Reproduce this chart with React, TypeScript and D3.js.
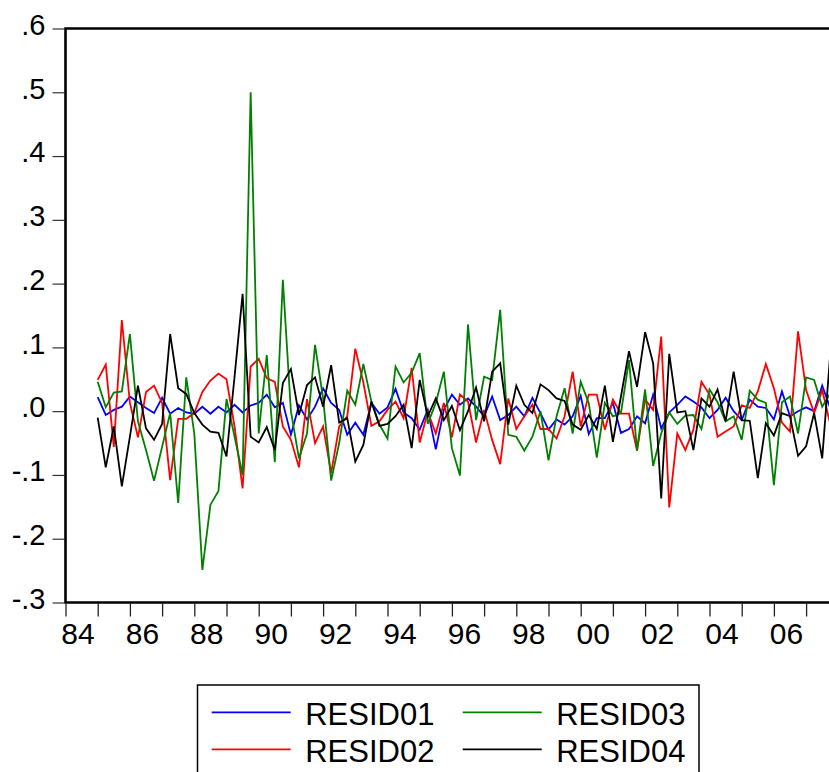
import { useEffect, useRef } from 'react';
import * as d3 from 'd3';

const width = 829;
const height = 772;
// plot frame (right edge falls outside the picture)
const [left, top, bottom, right] = [65.5, 28.5, 602.5, 838.3];

// quarterly observations, first one is 1985Q1
const startYear = 1985;
const yTicks = [-0.3, -0.2, -0.1, 0, 0.1, 0.2, 0.3, 0.4, 0.5, 0.6];
const yearTicks = d3.range(1984, 2008);
const yearLabels = ['84', '86', '88', '90', '92', '94', '96', '98', '00', '02', '04', '06'];

const resid01 = [
    0.022, -0.006, 0.002, 0.007, 0.023, 0.014, 0.005, -0.003, 0.021, -0.004, 0.005, -0.002, -0.004, 0.007, -0.004,
    0.007, -0.002, 0.01, -0.002, 0.009, 0.013, 0.026, 0.006, 0.013, -0.037, 0.009, -0.013, 0.007, 0.036, 0.013, 0.002,
    -0.037, -0.018, -0.037, 0.013, -0.004, 0.006, 0.035, -0.002, -0.011, -0.029, 0.002, -0.06, 0.002, 0.026, 0.01,
    0.02, 0.007, -0.008, 0.023, -0.014, -0.006, 0.007, -0.008, 0.021, -0.003, -0.029, -0.013, -0.021, -0.008, 0.024,
    -0.036, -0.011, -0.011, 0.013, -0.034, -0.028, -0.008, -0.019, 0.026, -0.027, -0.002, 0.01, 0.023, 0.015, 0.006,
    -0.011, 0.002, 0.021, 0.0, -0.014, 0.018, 0.007, 0.005, -0.013, 0.031, -0.008, 0.0, 0.006, 0.0, 0.04, 0.005
];
const resid02 = [
    0.049, 0.073, -0.056, 0.143, 0.013, -0.041, 0.03, 0.04, 0.013, -0.108, -0.012, -0.012, -0.003, 0.03, 0.048, 0.059,
    0.05, -0.024, -0.121, 0.07, 0.082, 0.052, 0.046, -0.024, -0.045, -0.088, 0.019, -0.05, -0.024, -0.097, -0.024,
    -0.008, 0.098, 0.045, -0.023, -0.016, 0.002, 0.015, -0.011, 0.068, -0.049, -0.001, -0.035, 0.013, -0.041, 0.026,
    0.015, -0.049, 0.002, -0.045, -0.083, 0.02, -0.028, -0.008, 0.01, -0.028, -0.028, -0.043, -0.008, 0.062, -0.024,
    0.026, 0.026, -0.029, 0.018, -0.004, -0.004, -0.062, 0.018, 0.002, 0.117, -0.151, -0.035, -0.061, -0.029, 0.046,
    0.026, -0.04, -0.032, -0.024, 0.009, 0.005, 0.031, 0.074, 0.036, -0.018, -0.032, 0.125, 0.033, -0.003, 0.033, -0.02
];
const resid03 = [
    0.046, 0.006, 0.029, 0.031, 0.121, -0.016, -0.061, -0.109, -0.056, -0.003, -0.144, 0.053, -0.035, -0.249, -0.147,
    -0.125, 0.019, -0.04, -0.1, 0.5, -0.035, 0.088, -0.08, 0.206, 0.0, -0.074, -0.035, 0.104, 0.02, -0.109, -0.05,
    0.032, 0.01, 0.074, 0.015, -0.021, -0.043, 0.07, 0.045, 0.06, 0.091, -0.02, 0.013, 0.062, -0.058, -0.101, 0.136,
    -0.014, 0.054, 0.049, 0.159, -0.037, -0.04, -0.062, -0.04, 0.0, -0.077, -0.008, 0.036, -0.035, 0.046, 0.013,
    -0.073, 0.013, -0.008, -0.003, 0.08, -0.061, 0.034, -0.086, -0.035, -0.002, -0.02, -0.007, -0.006, -0.028, 0.034,
    0.014, -0.016, -0.008, -0.045, 0.032, 0.018, 0.013, -0.116, 0.014, 0.023, -0.035, 0.053, 0.049, 0.007, 0.028
];
const resid04 = [
    -0.01, -0.088, -0.024, -0.118, -0.04, 0.04, -0.027, -0.045, -0.02, 0.121, 0.036, 0.027, -0.003, -0.021, -0.032,
    -0.034, -0.071, 0.054, 0.184, -0.04, -0.049, -0.025, -0.061, 0.044, 0.066, -0.006, 0.041, 0.053, 0.007, 0.072,
    -0.018, -0.011, -0.079, -0.053, 0.015, -0.023, -0.02, -0.008, 0.01, -0.058, 0.049, -0.008, 0.02, -0.014, 0.008,
    -0.03, 0.0, 0.037, -0.016, 0.062, 0.075, -0.021, 0.04, 0.01, -0.003, 0.042, 0.033, 0.02, 0.016, -0.021, -0.029,
    -0.006, -0.028, 0.04, -0.048, 0.023, 0.094, 0.038, 0.124, 0.075, -0.137, 0.09, -0.002, 0.0, -0.061, 0.02, 0.007,
    0.034, -0.016, 0.062, -0.014, -0.015, -0.105, -0.019, -0.038, -0.003, -0.008, -0.07, -0.055, -0.003, -0.074, 0.09
];

const seriesNames = ['RESID01', 'RESID02', 'RESID03', 'RESID04'];
const seriesValues = [resid01, resid02, resid03, resid04];
const colors = ['#0000ff', '#ff0000', '#008000', '#000000'];

const font = '"Liberation Sans", Arial, sans-serif';

export default function App() {
    const ref = useRef<SVGSVGElement | null>(null);

    useEffect(() => {
        const svg = d3.select(ref.current);
        svg.selectAll('*').remove();

        const x = d3.scaleLinear().domain([1984, 2008]).range([left, right]);
        const y = d3.scaleLinear().domain([-0.3, 0.6]).range([bottom, top]);

        // y axis, EViews style labels: ".6", ".0", "-.3"
        const fmt = (d: number) => d3.format('.1f')(d).replace('\u2212', '-').replace('0.', '.');
        svg.append('g')
            .attr('transform', `translate(${left - 1},0)`)
            .call(d3.axisLeft(y).tickValues(yTicks).tickFormat(fmt as any).tickSize(12).tickPadding(7))
            .call((g) => g.select('.domain').remove())
            .call((g) => g.selectAll('.tick line').attr('stroke', '#333').attr('stroke-width', 1.2))
            .call((g) =>
                g
                    .selectAll('.tick text')
                    .attr('fill', '#000')
                    .attr('font-family', font)
                    .attr('font-size', 29)
                    .attr('dy', '0.2em')
            );

        // x axis: a tick every year, a label every second year
        const xAxisG = svg
            .append('g')
            .attr('transform', `translate(0,${bottom + 1})`)
            .call(
                d3
                    .axisBottom(x)
                    .tickValues(yearTicks)
                    .tickFormat((d: any) => (d % 2 === 0 ? yearLabels[(d - 1984) / 2] : '') as any)
                    .tickSize(13)
                    .tickPadding(6)
            );
        xAxisG.select('.domain').remove();
        xAxisG.selectAll('.tick line').attr('stroke', '#222').attr('stroke-width', 1.3);
        xAxisG
            .selectAll('.tick text')
            .attr('x', 12)
            .attr('fill', '#000')
            .attr('font-family', font)
            .attr('font-size', 30);

        // lines
        const line = d3
            .line<number>()
            .x((_d, i) => x(startYear + i / 4))
            .y((d) => y(d));

        svg.append('g')
            .selectAll('path')
            .data(seriesValues)
            .join('path')
            .attr('fill', 'none')
            .attr('stroke', (_d, i) => colors[i])
            .attr('stroke-width', 1.8)
            .attr('d', (d) => line(d));

        // frame (left, top, bottom)
        svg.append('path')
            .attr('d', `M${right + 10},${top}H${left}V${bottom}H${right + 10}`)
            .attr('fill', 'none')
            .attr('stroke', '#000')
            .attr('stroke-width', 2.6);

        // legend, two columns
        const legend = svg.append('g');
        legend
            .append('rect')
            .attr('x', 197.5)
            .attr('y', 685)
            .attr('width', 501.5)
            .attr('height', 120)
            .attr('fill', '#fff')
            .attr('stroke', '#000')
            .attr('stroke-width', 1.5);

        const cols = [211.7, 462.7];
        const rows = [712.3, 749.3];
        seriesNames.forEach((name, i) => {
            const cx = cols[Math.floor(i / 2)];
            const cy = rows[i % 2];
            legend
                .append('line')
                .attr('x1', cx)
                .attr('x2', cx + 79)
                .attr('y1', cy)
                .attr('y2', cy)
                .attr('stroke', colors[i])
                .attr('stroke-width', 1.8);
            legend
                .append('text')
                .attr('x', cx + 93.5)
                .attr('y', cy + 12.5)
                .attr('font-family', font)
                .attr('font-size', 31)
                .attr('fill', '#000')
                .text(name);
        });
    }, []);

    return (
        <svg
            ref={ref}
            width={width}
            height={height}
            style={{ position: 'absolute', left: 0, top: 0, background: '#fff', overflow: 'hidden' }}
        />
    );
}
